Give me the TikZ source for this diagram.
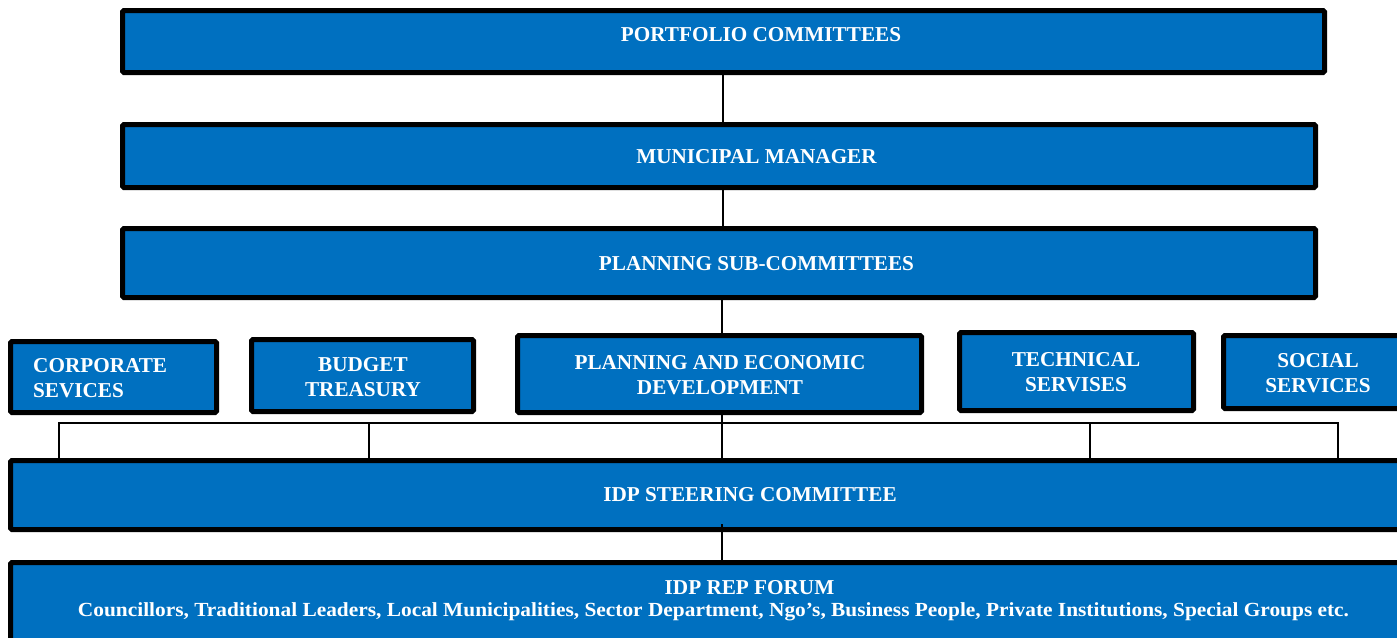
\documentclass[tikz,border=0pt]{standalone}
\usepackage{fontspec}
\setmainfont{Liberation Serif}
\usetikzlibrary{backgrounds}
\definecolor{boxblue}{HTML}{0070C0}
\tikzset{
  box/.style={draw=black, fill=boxblue, line width=5pt, rounded corners=1.5pt, inner sep=0pt},
  lbl/.style={text=white, font=\bfseries\fontsize{21.2}{25}\selectfont, inner sep=0pt, align=center},
  small/.style={text=white, font=\bfseries\fontsize{20}{24}\selectfont, inner sep=0pt},
  link/.style={draw=black, line width=2pt}
}
\begin{document}
\begin{tikzpicture}[x=1pt,y=-1pt]
\useasboundingbox (0,0) rectangle (1397,637);
\clip (0,0) rectangle (1397,637);
% boxes
\node[box, minimum width=1202pt, minimum height=62pt] (pc) at (723.5,41.5) {};
\node[box, minimum width=1193pt, minimum height=63pt] (mm) at (719,156) {};
\node[box, minimum width=1193pt, minimum height=69pt] (psc) at (719,263) {};
\node[box, minimum width=206pt, minimum height=71pt] (cs) at (113.5,377) {};
\node[box, minimum width=222pt, minimum height=72pt] (bt) at (362.5,375.5) {};
\node[box, minimum width=404pt, minimum height=77pt] (ped) at (719.5,374) {};
\node[box, minimum width=234pt, minimum height=78pt] (ts) at (1076.5,371.5) {};
\node[box, minimum width=184pt, minimum height=73pt] (ss) at (1315.5,372) {};
\node[box, minimum width=1397pt, minimum height=69pt] (idps) at (709,495) {};
\node[box, minimum width=1397pt, minimum height=85pt] (rep) at (709,605) {};
% texts
\node[lbl] (tpc) at (761,35) {PORTFOLIO COMMITTEES};
\node[lbl] (tmm) at (756.5,157) {MUNICIPAL MANAGER};
\node[lbl] (tpsc) at (756.5,264) {PLANNING SUB-COMMITTEES};
\node[lbl, align=left, anchor=west] (tcs) at (33,378.5) {CORPORATE\\SEVICES};
\node[lbl] (tbt) at (363,377) {BUDGET\\TREASURY};
\node[lbl] (tped) at (720,375.5) {PLANNING AND ECONOMIC\\DEVELOPMENT};
\node[lbl] (tts) at (1076,372.5) {TECHNICAL\\SERVISES};
\node[lbl] (tss) at (1318,373.5) {SOCIAL\\SERVICES};
\node[lbl] (tidps) at (750,495) {IDP STEERING COMMITTEE};
\node[lbl, anchor=base] (trep1) at (749.5,594) {IDP REP FORUM};
\node[small, anchor=base] (trep2) at (713.5,616.5) {\resizebox{1271pt}{\height}{Councillors, Traditional Leaders, Local Municipalities, Sector Department, Ngo’s, Business People, Private Institutions, Special Groups etc.}};
% connectors
\coordinate (spine) at (723,0);
\coordinate (spine2) at (722,0);
\coordinate (busL) at (59,423);
\coordinate (busR) at (1338,423);
\coordinate (d2) at (369,423);
\coordinate (d4) at (1090,423);
\begin{pgfonlayer}{background}
\draw[link] (pc.south -| spine) -- (mm.north -| spine);
\draw[link] (mm.south -| spine) -- (psc.north -| spine);
\draw[link] (psc.south -| spine2) -- (idps.north -| spine2);
\draw[link] (busL |- idps.north) -- (busL) -- (busR) -- (busR |- idps.north);
\draw[link] (d2) -- (d2 |- idps.north);
\draw[link] (d4) -- (d4 |- idps.north);
\end{pgfonlayer}
\draw[link] ([yshift=8pt]idps.south -| spine2) -- (rep.north -| spine2);
\end{tikzpicture}
\end{document}
